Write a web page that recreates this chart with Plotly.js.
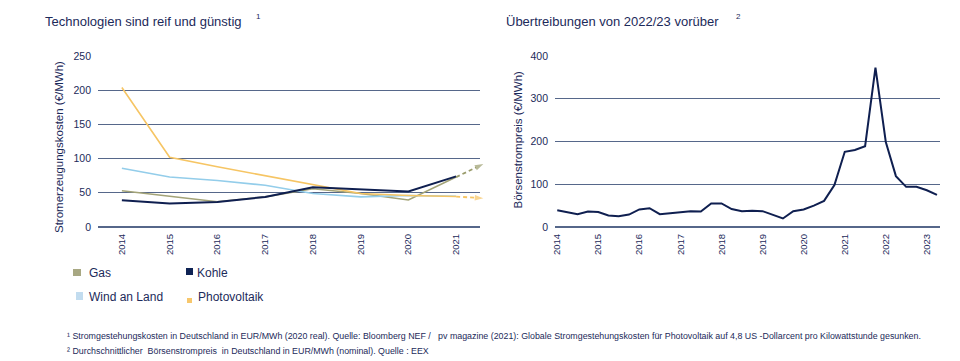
<!DOCTYPE html>
<html>
<head>
<meta charset="utf-8">
<script src="https://cdn.plot.ly/plotly-3.0.1.min.js"></script>
<style>
html,body{margin:0;padding:0;background:#fff;}
#chart{width:960px;height:361px;}
</style>
</head>
<body>
<div id="chart"></div>
<script>
// ---------- Data: left chart (Stromgestehungskosten, €/MWh) ----------
const years = [2014, 2015, 2016, 2017, 2018, 2019, 2020, 2021];
const yearLabels = ["2014", "2015", "2016", "2017", "2018", "2019", "2020", "2021"];
const gas = [53, 45, 37, 44, 56, 49, 39.5, 73];
const kohle = [39, 34.5, 36.5, 44, 58, 55, 52, 74];
const windAnLand = [86, 73, 68, 61, 49, 44, 46, 45];
const photovoltaik = [204, 102, 88, 75, 61, 49, 46, 44.5];
// projections (dashed arrows)
const projX = [2021, 2021.57];
const gasProjection = [73, 92];
const pvProjection = [44.5, 42];

// ---------- Data: right chart (Börsenstrompreis, €/MWh, quarterly) ----------
const quarters = [
  "2014-01-01","2014-04-01","2014-07-01","2014-10-01",
  "2015-01-01","2015-04-01","2015-07-01","2015-10-01",
  "2016-01-01","2016-04-01","2016-07-01","2016-10-01",
  "2017-01-01","2017-04-01","2017-07-01","2017-10-01",
  "2018-01-01","2018-04-01","2018-07-01","2018-10-01",
  "2019-01-01","2019-04-01","2019-07-01","2019-10-01",
  "2020-01-01","2020-04-01","2020-07-01","2020-10-01",
  "2021-01-01","2021-04-01","2021-07-01","2021-10-01",
  "2022-01-01","2022-04-01","2022-07-01","2022-10-01",
  "2023-01-01","2023-04-01"
];
const boersenpreis = [
  39, 35, 30, 36,
  35, 27, 25, 29,
  41, 44, 30, 32,
  34, 37, 36, 55,
  55, 42, 37, 38,
  37, 29, 20, 37,
  41, 50, 61, 98,
  176, 180, 189, 373,
  199, 119, 94, 94,
  86, 75
];
const rightTickVals = ["2014-01-01","2015-01-01","2016-01-01","2017-01-01","2018-01-01","2019-01-01","2020-01-01","2021-01-01","2022-01-01","2023-01-01"];
const rightTickText = ["2014","2015","2016","2017","2018","2019","2020","2021","2022","2023"];

// ---------- Text ----------
const titleLeft = "Technologien sind reif und günstig";
const titleRight = "Übertreibungen von 2022/23 vorüber";
const yTitleLeft = "Stromerzeugungskosten (€/MWh)";
const yTitleRight = "Börsenstrompreis (€/MWh)";
const footnote1 = "¹ Stromgestehungskosten in Deutschland in EUR/MWh (2020 real). Quelle: Bloomberg NEF /   pv magazine (2021): Globale Stromgestehungskosten für Photovoltaik auf 4,8 US -Dollarcent pro Kilowattstunde gesunken.";
const footnote2 = "² Durchschnittlicher  Börsenstrompreis  in Deutschland in EUR/MWh (nominal). Quelle : EEX";
const legendNames = ["Gas", "Kohle", "Wind an Land", "Photovoltaik"];

// ---------- Styles ----------
const W = 960, H = 361;
const NAVY = "#1c2a5a";
const GRID = "#56678a";
const FONT = "Liberation Sans, Arial, sans-serif";
const C_GAS = "#a3a377", C_KOHLE = "#0f1f50", C_WIND = "#93cdea", C_PV = "#f6c564";
const legendColors = ["#a8a883", "#0f2354", "#c2dcef", "#f7c76c"];

const px = v => v / W;
const py = v => (H - v) / H;

const yDom = [py(227), py(56)];
const leftDom = [px(98), px(480)];
const rightDom = [px(555), px(940)];
// projection axis: same scale as left x-axis, wider domain
const pxPerYear = (480 - 98) / 8;
const projDom = [px(98), px(492)];
const projRange = [2013.5, 2013.5 + (492 - 98) / pxPerYear];

function line(x, y, color, width, name, xa, ya, dash) {
  return {x, y, type: "scatter", mode: "lines", name, xaxis: xa, yaxis: ya,
    line: {color, width, dash: dash || "solid"}, showlegend: false, hoverinfo: "skip"};
}

const traces = [
  line(years, gas, C_GAS, 1.6, "Gas", "x", "y"),
  line(years, windAnLand, C_WIND, 1.6, "Wind an Land", "x", "y"),
  line(years, photovoltaik, C_PV, 1.6, "Photovoltaik", "x", "y"),
  line(years, kohle, C_KOHLE, 2, "Kohle", "x", "y"),
  {x: projX, y: gasProjection, type: "scatter", mode: "lines+markers", xaxis: "x3", yaxis: "y3",
   line: {color: "#9a9c6c", width: 1.8, dash: "4px,3px"}, cliponaxis: false,
   marker: {symbol: "arrow", angleref: "previous", size: [0, 9], color: "#9a9c6c", line: {width: 0}},
   showlegend: false, hoverinfo: "skip"},
  {x: projX, y: pvProjection, type: "scatter", mode: "lines+markers", xaxis: "x3", yaxis: "y3",
   line: {color: C_PV, width: 1.8, dash: "4px,3px"}, cliponaxis: false,
   marker: {symbol: "arrow", angleref: "previous", size: [0, 9], color: C_PV, line: {width: 0}},
   showlegend: false, hoverinfo: "skip"},
  line(quarters, boersenpreis, C_KOHLE, 2, "Börsenstrompreis", "x2", "y2")
];

const tickFontY = {family: FONT, size: 10.5, color: NAVY};
const tickFontX = {family: FONT, size: 9.5, color: NAVY};

const layout = {
  width: W, height: H,
  margin: {l: 0, r: 0, t: 0, b: 0},
  paper_bgcolor: "#fff", plot_bgcolor: "rgba(0,0,0,0)",
  showlegend: false,
  font: {family: FONT, color: NAVY},
  xaxis: {domain: leftDom, anchor: "y", range: [2013.5, 2021.5], tickvals: years, ticktext: yearLabels,
    tickangle: -90, showgrid: false, zeroline: false, showline: false, ticks: "", tickfont: tickFontX,
    ticklabelstandoff: 4, fixedrange: true},
  yaxis: {domain: yDom, anchor: "x", range: [0, 250], dtick: 50, tick0: 0, showgrid: true,
    gridcolor: GRID, gridwidth: 1.3, zeroline: true, zerolinecolor: GRID, zerolinewidth: 1.3,
    showline: false, ticks: "", tickfont: tickFontY, ticklabelstandoff: 6, fixedrange: true},
  xaxis3: {domain: projDom, anchor: "y3", range: projRange, visible: false, fixedrange: true},
  yaxis3: {domain: yDom, anchor: "x3", range: [0, 250], visible: false, fixedrange: true},
  xaxis2: {domain: rightDom, anchor: "y2", type: "date", range: ["2013-12-12", "2023-04-28"],
    tickvals: rightTickVals, ticktext: rightTickText, tickangle: -90, showgrid: false, zeroline: false,
    showline: false, ticks: "", tickfont: tickFontX, ticklabelstandoff: 4, fixedrange: true},
  yaxis2: {domain: yDom, anchor: "x2", range: [0, 400], dtick: 100, tick0: 0, showgrid: true,
    gridcolor: GRID, gridwidth: 1.3, zeroline: true, zerolinecolor: GRID, zerolinewidth: 1.3,
    showline: false, ticks: "", tickfont: tickFontY, ticklabelstandoff: 6, fixedrange: true},
  annotations: [],
  shapes: []
};

const ann = layout.annotations;
function text(t, x, y, size, opts) {
  ann.push(Object.assign({text: t, x: px(x), y: py(y), xref: "paper", yref: "paper",
    xanchor: "left", yanchor: "middle", showarrow: false,
    font: {family: FONT, size, color: NAVY}}, opts || {}));
}
// titles
text(titleLeft, 43, 21, 13);
text("1", 254, 17, 8);
text(titleRight, 504, 21, 13);
text("2", 734, 17, 8);
// y-axis titles
text(yTitleLeft, 59, 147, 11.5, {xanchor: "center", textangle: -90});
text(yTitleRight, 517, 139.5, 11.5, {xanchor: "center", textangle: -90});
// footnotes
text(footnote1, 65, 336, 8.85);
text(footnote2, 65, 351, 8.85);

// legend (squares + labels)
const legendBoxes = [
  {x0: 73, x1: 81, y0: 269, y1: 276, tx: 87, ty: 273},
  {x0: 186, x1: 193, y0: 268, y1: 275, tx: 195, ty: 273},
  {x0: 76, x1: 83, y0: 292, y1: 300, tx: 87, ty: 297},
  {x0: 187, x1: 192, y0: 298, y1: 303, tx: 196, ty: 297}
];
legendNames.forEach((n, i) => {
  const b = legendBoxes[i];
  layout.shapes.push({type: "rect", xref: "paper", yref: "paper",
    x0: px(b.x0), x1: px(b.x1), y0: py(b.y1), y1: py(b.y0),
    fillcolor: legendColors[i], line: {width: 0}});
  text(n, b.tx, b.ty, 12);
});

Plotly.newPlot("chart", traces, layout, {displayModeBar: false, staticPlot: true});
</script>
</body>
</html>
